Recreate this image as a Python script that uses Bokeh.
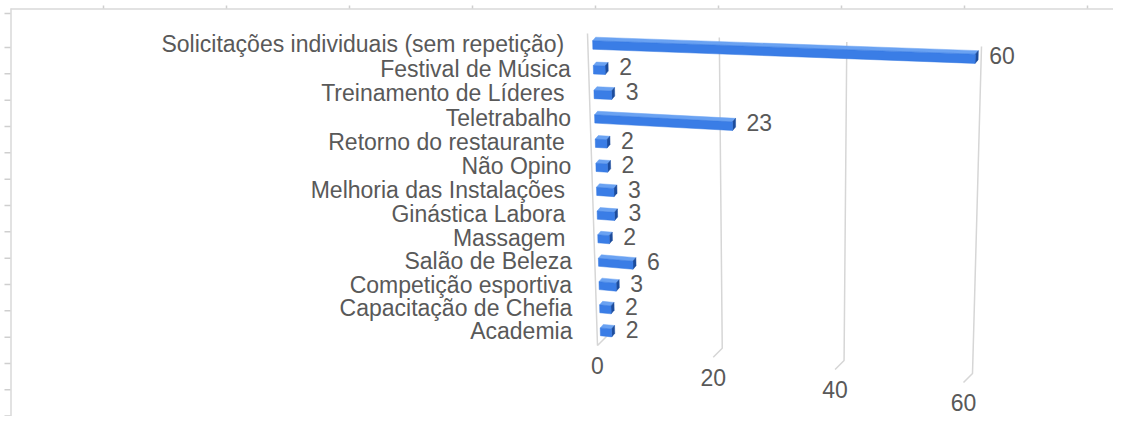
from bokeh.plotting import figure
from bokeh.models import Range1d
from bokeh.core.properties import value
from bokeh.embed import file_html
from bokeh.resources import INLINE

# ---------------- data ----------------
categories = [
    "Solicitações individuais (sem repetição) ",
    "Festival de Música",
    "Treinamento de Líderes ",
    "Teletrabalho",
    "Retorno do restaurante ",
    "Não Opino",
    "Melhoria das Instalações ",
    "Ginástica Labora ",
    "Massagem ",
    "Salão de Beleza",
    "Competição esportiva",
    "Capacitação de Chefia",
    "Academia",
]
counts = [60, 2, 3, 23, 2, 2, 3, 3, 2, 6, 3, 2, 2]
x_ticks = [0, 20, 40, 60]
x_tick_labels = ["0", "20", "40", "60"]
x_max = 60

# ---------------- perspective geometry (style) ----------------
P0, P1, P2, P3 = (598, 33), (981, 46), (972, 373), (606, 336)
DEPTH = (-9, 9)
FRONT_TOP = (-11, 0)
BAR_OFF = (-6, 2)
BAR_DEPTH = (3, -3.5)
HALF = 0.0135
T_TOP, T_BOT = 0.03, 0.023
FONT = "23px"
SPACE_W = 6.4

x0, y0 = P0; x1, y1 = P1; x2, y2 = P2; x3, y3 = P3
dx1, dx2, dx3 = x1 - x2, x3 - x2, x0 - x1 + x2 - x3
dy1, dy2, dy3 = y1 - y2, y3 - y2, y0 - y1 + y2 - y3
den = dx1 * dy2 - dx2 * dy1
G = (dx3 * dy2 - dx2 * dy3) / den
H = (dx1 * dy3 - dx3 * dy1) / den
A = x1 - x0 + G * x1; B = x3 - x0 + H * x3; C = x0
D = y1 - y0 + G * y1; E = y3 - y0 + H * y3; F = y0


def wall(u, t):
    w = G * u + H * t + 1
    return ((A * u + B * t + C) / w, (D * u + E * t + F) / w)


def add(p, q):
    return (p[0] + q[0], p[1] + q[1])


n = len(categories)
t_rows = [T_TOP + i * (1 - T_TOP - T_BOT) / (n - 1) for i in range(n)]

p = figure(width=1113, height=416, output_backend="svg", toolbar_location=None,
           x_range=Range1d(0, 1113), y_range=Range1d(416, 0),
           x_axis_type=None, y_axis_type=None, min_border=0,
           outline_line_color=None, background_fill_color="white")
p.grid.visible = False

# ---------------- frame (spreadsheet edge) ----------------
p.line([10, 1113], [8.5, 8.5], line_color="#d9d9d9", line_width=1.5)
p.line([10.5, 10.5], [8, 416], line_color="#d9d9d9", line_width=1.5)
row_marks = [13] + [47 + k * 26.33 for k in range(15)]
p.segment(x0=[4] * len(row_marks), y0=row_marks, x1=[10] * len(row_marks), y1=row_marks,
          line_color="#cfcfcf", line_width=1.5)
col_marks = [103 + k * 123 for k in range(9)]
p.segment(x0=col_marks, y0=[5] * len(col_marks), x1=col_marks, y1=[8] * len(col_marks),
          line_color="#cfcfcf", line_width=1.5)

# ---------------- gridlines ----------------
grid_col = "#d6d6d6"
for v in x_ticks[1:]:
    u = v / x_max
    ts = [k / 20 for k in range(21)]
    pts = [wall(u, t) for t in ts]
    fr = add(wall(u, 1), DEPTH)
    p.line([q[0] for q in pts] + [fr[0]], [q[1] for q in pts] + [fr[1]],
           line_color=grid_col, line_width=1.5)
top0 = add(wall(0, 0), FRONT_TOP)
bot0 = wall(0, 1)
fr0 = add(bot0, DEPTH)
p.line([top0[0], fr0[0], bot0[0]], [top0[1], fr0[1], bot0[1]],
       line_color=grid_col, line_width=1.5)

# axis tick labels
tx, ty = [], []
for v in x_ticks:
    q = add(add(wall(v / x_max, 1), DEPTH), (0, 20))
    tx.append(q[0]); ty.append(q[1])
p.text(x=tx, y=ty, text=x_tick_labels, text_align="center", text_baseline="middle",
       text_font=value("Liberation Sans"), text_font_size=FONT, text_color="#595959")

# ---------------- bars ----------------
front_xs, front_ys, top_xs, top_ys, end_xs, end_ys = [], [], [], [], [], []
lab_x, lab_y, lab_t = [], [], []
for t, c in zip(t_rows, counts):
    u = c / x_max
    a = add(wall(0, t - HALF), BAR_OFF)
    b = add(wall(u, t - HALF), BAR_OFF)
    cc = add(wall(u, t + HALF), BAR_OFF)
    d = add(wall(0, t + HALF), BAR_OFF)
    a2, b2, c2 = add(a, BAR_DEPTH), add(b, BAR_DEPTH), add(cc, BAR_DEPTH)
    front_xs.append([a[0], b[0], cc[0], d[0]]); front_ys.append([a[1], b[1], cc[1], d[1]])
    top_xs.append([a[0], b[0], b2[0], a2[0]]); top_ys.append([a[1], b[1], b2[1], a2[1]])
    end_xs.append([b[0], b2[0], c2[0], cc[0]]); end_ys.append([b[1], b2[1], c2[1], cc[1]])
    m = add(wall(u, t), BAR_OFF)
    lab_x.append(m[0] + BAR_DEPTH[0] + 11)
    lab_y.append(m[1] - 3.5)
    lab_t.append(str(c))

p.patches(top_xs, top_ys, fill_color="#6aa2f2", line_color="#6aa2f2", line_width=0.5)
p.patches(end_xs, end_ys, fill_color="#1d4c9c", line_color="#1d4c9c", line_width=0.5)
p.patches(front_xs, front_ys, fill_color="#3a7de6", line_color="#3377e0", line_width=0.5)

p.text(x=lab_x, y=lab_y, text=lab_t, text_align="left", text_baseline="middle",
       text_font=value("Liberation Sans"), text_font_size=FONT, text_color="#595959")

# category labels (trailing spaces of the source labels kept as a shift)
shown = [c.rstrip() for c in categories]
cx = [570 + 2 * t - (SPACE_W if c.endswith(" ") else 0) for t, c in zip(t_rows, categories)]
cy = [wall(0, t)[1] + BAR_OFF[1] - 1 for t in t_rows]
p.text(x=cx, y=cy, text=shown, text_align="right", text_baseline="middle",
       text_font=value("Liberation Sans"), text_font_size=FONT, text_color="#595959")

open("out.html", "w").write(file_html(p, INLINE))
